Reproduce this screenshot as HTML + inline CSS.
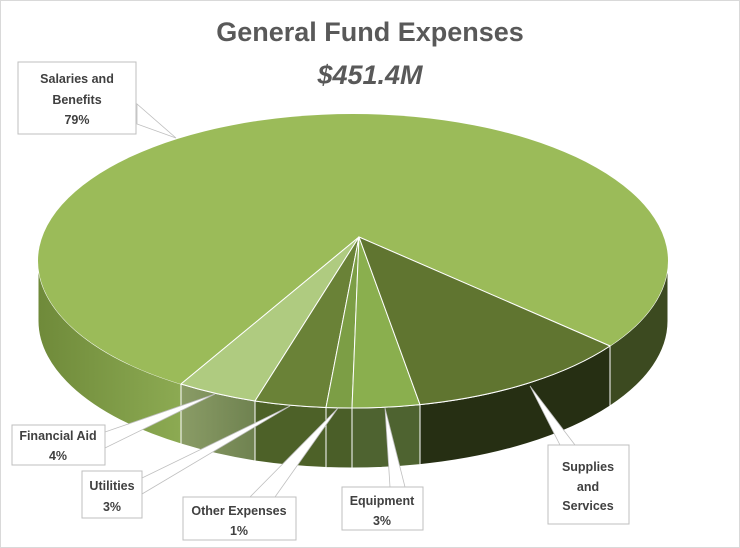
<!DOCTYPE html>
<html><head><meta charset="utf-8"><style>
body{margin:0;background:#fff}
svg{display:block}
text{font-family:"Liberation Sans",sans-serif;fill:#404040}
.l{font-size:12.5px;font-weight:bold;text-anchor:middle}
</style></head><body>
<svg width="740" height="548" viewBox="0 0 740 548">
<defs>
<linearGradient id="gs" x1="0" x2="1" y1="0" y2="0">
<stop offset="0" stop-color="#6f8a3a"/><stop offset="1" stop-color="#8caa52"/></linearGradient>
<linearGradient id="gf" x1="0" x2="1"><stop offset="0" stop-color="#8a9c66"/><stop offset="1" stop-color="#6f8250"/></linearGradient>
</defs>
<rect x="0.5" y="0.5" width="739" height="547" fill="#fff" stroke="#d9d9d9"/>
<text x="370" y="41" font-size="27" font-weight="bold" text-anchor="middle" style="fill:#595959">General Fund Expenses</text>
<text x="370" y="84" font-size="27" font-weight="bold" font-style="italic" text-anchor="middle" style="fill:#595959">$451.4M</text>

<!-- sides -->
<g stroke="#fff" stroke-width="1">
<path d="M38,261 A315,147 0 0,0 181,384 L181,444 A315,147 0 0,1 38,321 Z" fill="url(#gs)"/>
<path d="M181,384 A315,147 0 0,0 255,401 L255,461 A315,147 0 0,1 181,444 Z" fill="url(#gf)"/>
<path d="M255,401 A315,147 0 0,0 326,407.5 L326,467.5 A315,147 0 0,1 255,461 Z" fill="#4d6128"/>
<path d="M326,407.5 A315,147 0 0,0 352,408 L352,468 A315,147 0 0,1 326,467.5 Z" fill="#4a5e28"/>
<path d="M352,408 A315,147 0 0,0 420,404.6 L420,464.6 A315,147 0 0,1 352,468 Z" fill="#4e6330"/>
<path d="M420,404.6 A315,147 0 0,0 610,346 L610,406 A315,147 0 0,1 420,464.6 Z" fill="#262f13"/>
<path d="M610,346 A315,147 0 0,0 668,261 L668,321 A315,147 0 0,1 610,406 Z" fill="#3c4a20"/>
</g>
<!-- top -->
<ellipse cx="353" cy="261" rx="315" ry="147" fill="#9bbb59"/>
<g stroke="#fff" stroke-width="1">
<path d="M359,237 L610,346 M359,237 L181,384" fill="none"/>
<path d="M359,237 L181,384 A315,147 0 0,0 255,401 Z" fill="#afcb80"/>
<path d="M359,237 L255,401 A315,147 0 0,0 326,407.5 Z" fill="#6a8237"/>
<path d="M359,237 L326,407.5 A315,147 0 0,0 352,408 Z" fill="#7c9e45"/>
<path d="M359,237 L352,408 A315,147 0 0,0 420,404.6 Z" fill="#8aaf4e"/>
<path d="M359,237 L420,404.6 A315,147 0 0,0 610,346 Z" fill="#607530"/>
</g>
<!-- leaders -->
<g fill="#fff" stroke="#bfbfbf" stroke-width="0.8">
<path d="M176,138 L137,104 L137,124 Z"/>
<path d="M215,394 L105,432 L105,448 Z"/>
<path d="M290,406 L142,478 L142,494 Z"/>
<path d="M338,408 L250,497 L275,497 Z"/>
<path d="M385,408 L390,487 L405,487 Z"/>
<path d="M530,386 L560,445 L575,445 Z"/>
</g>
<g fill="#fff" stroke="#bfbfbf" stroke-width="1">
<rect x="18" y="62" width="118" height="72"/>
<rect x="12" y="425" width="93" height="40"/>
<rect x="82" y="471" width="60" height="47"/>
<rect x="183" y="497" width="113" height="43"/>
<rect x="342" y="487" width="81" height="43"/>
<rect x="548" y="445" width="81" height="79"/>
</g>
<text class="l" x="77" y="83">Salaries and</text>
<text class="l" x="77" y="104">Benefits</text>
<text class="l" x="77" y="124">79%</text>
<text class="l" x="58" y="440">Financial Aid</text>
<text class="l" x="58" y="460">4%</text>
<text class="l" x="112" y="490">Utilities</text>
<text class="l" x="112" y="511">3%</text>
<text class="l" x="239" y="515">Other Expenses</text>
<text class="l" x="239" y="535">1%</text>
<text class="l" x="382" y="505">Equipment</text>
<text class="l" x="382" y="525">3%</text>
<text class="l" x="588" y="471">Supplies</text>
<text class="l" x="588" y="491">and</text>
<text class="l" x="588" y="510">Services</text>
</svg>
</body></html>
